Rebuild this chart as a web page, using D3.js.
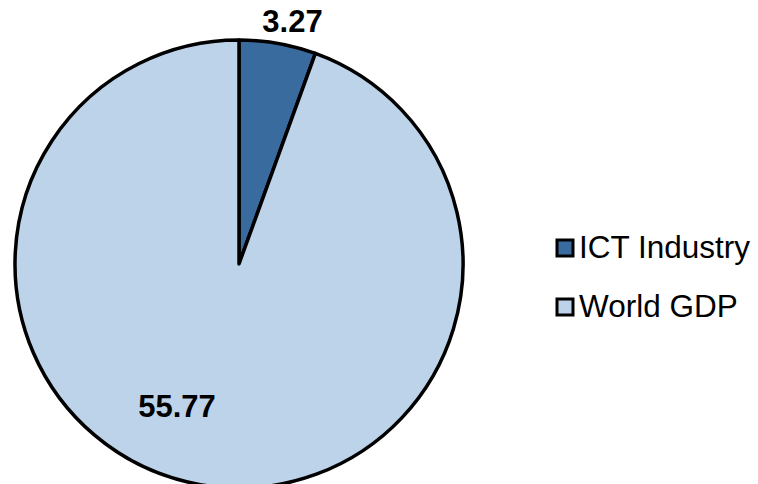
<!DOCTYPE html>
<html>
<head>
<meta charset="utf-8">
<script src="https://cdn.jsdelivr.net/npm/d3@7"></script>
<style>
  body { margin: 0; background: #fff; }
  svg { display: block; font-family: "Liberation Sans", Arial, sans-serif; }
</style>
</head>
<body>
<svg id="chart" width="758" height="484"></svg>
<script>
// data
var categories = ["ICT Industry", "World GDP"];
var values = [3.27, 55.77];
var labels = ["3.27", "55.77"];

var colors = ["#3A6B9E", "#BDD3EA"];

var svg = d3.select("#chart");
var cx = 239, cy = 264, radius = 224;

var pie = d3.pie().sort(null).value(function(d) { return d; });
var arcs = pie(values);
var arc = d3.arc().innerRadius(0).outerRadius(radius);

var g = svg.append("g").attr("transform", "translate(" + cx + "," + cy + ")");

g.selectAll("path.slice")
  .data(arcs)
  .enter().append("path")
  .attr("class", "slice")
  .attr("d", arc)
  .attr("fill", function(d, i) { return colors[i]; })
  .attr("stroke", "#000")
  .attr("stroke-width", 3.5)
  .attr("stroke-linejoin", "round");

// label placement (angle in degrees from top, distance from centre) - tuned to look like excel
var labelPos = [{ang: 12.4, r: 249}, {ang: 203.6, r: 155}];
g.selectAll("text.lbl")
  .data(arcs)
  .enter().append("text")
  .attr("class", "lbl")
  .attr("x", function(d, i) { return labelPos[i].r * Math.sin(labelPos[i].ang * Math.PI / 180); })
  .attr("y", function(d, i) { return -labelPos[i].r * Math.cos(labelPos[i].ang * Math.PI / 180); })
  .attr("dy", "0.36em")
  .attr("text-anchor", "middle")
  .style("font-size", "31px")
  .style("font-weight", "bold")
  .text(function(d, i) { return labels[i]; });

// legend
var legend = svg.append("g").attr("transform", "translate(556,0)");
var item = legend.selectAll("g.item")
  .data(categories)
  .enter().append("g")
  .attr("class", "item")
  .attr("transform", function(d, i) { return "translate(0," + (248 + i * 59) + ")"; });

item.append("rect")
  .attr("x", 1).attr("y", -8)
  .attr("width", 16).attr("height", 16)
  .attr("fill", function(d, i) { return colors[i]; })
  .attr("stroke", "#000")
  .attr("stroke-width", 3);

item.append("text")
  .attr("x", 23)
  .attr("y", 10)
  .style("font-size", "31.5px")
  .text(function(d) { return d; });
</script>
</body>
</html>
